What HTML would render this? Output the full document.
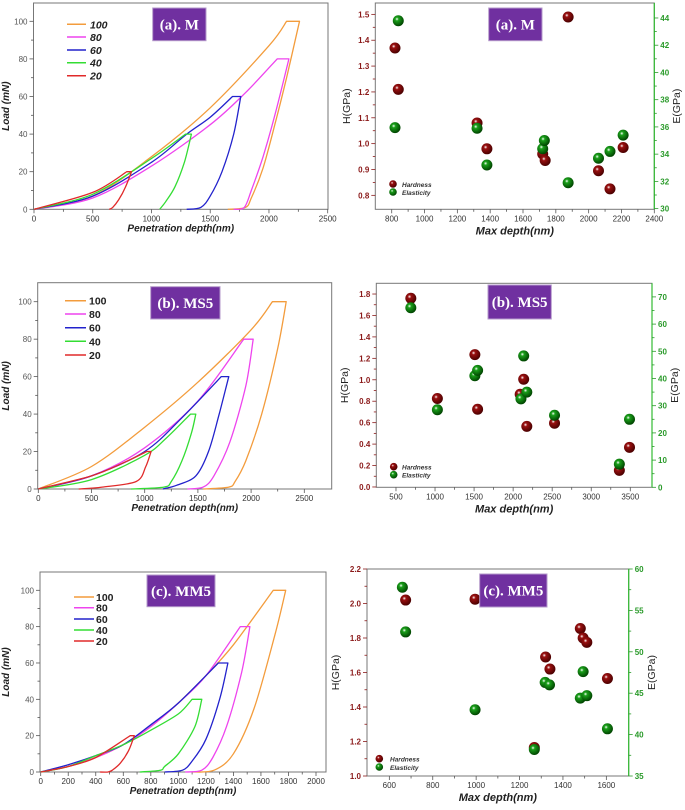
<!DOCTYPE html>
<html><head><meta charset="utf-8">
<style>
html,body{margin:0;padding:0;background:#fff;}
svg{display:block;font-family:"Liberation Sans",sans-serif;}
</style></head>
<body>
<svg id="fig" width="685" height="810" viewBox="0 0 685 810" xmlns="http://www.w3.org/2000/svg"></svg>
<script>
// ---------- data: load-depth curves (depth nm, load mN) ----------
const loadLevels = ["100","80","60","40","20"];
const curveColors = ["#f39c3c","#ee44ee","#2222cc","#33dd33","#e02a2a"];
const aDepth100=[0,500,1000,1500,2000,2150,2260,2150,2050,1950,1850,1800,1650];
const aLoad100 =[0,7,28,54,87,100,100,70,45,22,6,1,0];
const aDepth80=[0,500,1000,1500,1800,2070,2170,2050,1950,1850,1790,1700];
const aLoad80 =[0,6,23,45,62,80,80,50,28,10,1,0];
const aDepth60=[0,500,1000,1300,1500,1690,1760,1700,1600,1500,1420,1300];
const aLoad60 =[0,7,25,40,49,60,60,40,20,7,1,0];
const aDepth40=[0,500,1000,1290,1340,1280,1200,1120,1070];
const aLoad40 =[0,8,27,40,40,25,12,4,0];
const aDepth20=[0,500,790,830,780,720,670,640];
const aLoad20 =[0,9,20,20,12,5,1,0];

const bDepth100=[0,500,1000,1500,2000,2200,2330,2250,2100,1950,1850,1790,1550];
const bLoad100 =[0,12,33,57,85,100,100,75,40,15,4,1,0];
const bDepth80=[0,500,1000,1500,1930,2020,1950,1800,1650,1550,1400];
const bLoad80 =[0,7,22,47,80,80,55,25,7,1,0];
const bDepth60=[0,500,1000,1350,1720,1790,1700,1600,1480,1300,1170];
const bLoad60 =[0,7,20,38,60,60,40,20,7,2,0];
const bDepth40=[0,500,1000,1200,1430,1480,1440,1350,1250,1180,870];
const bLoad40 =[0,5,18,27,40,40,30,15,4,1,0];
const bDepth20=[0,500,800,1020,1060,1010,920,600,380];
const bLoad20 =[0,7,14,20,20,12,4,1,0];

const cDepth100=[0,200,400,600,800,1000,1200,1400,1690,1780,1700,1550,1400,1260,1100];
const cLoad100 =[0,3,8,15,25,38,53,70,100,100,75,35,10,1,0];
const cDepth80=[0,200,400,600,800,1000,1200,1450,1520,1460,1350,1250,1170,1050];
const cLoad80 =[0,3,8,15,25,38,53,80,80,55,25,8,1,0];
const cDepth60=[0,200,400,600,800,1000,1290,1360,1300,1200,1100,1030,900];
const cLoad60 =[0,4,9,15,26,38,60,60,40,18,6,1,0];
const cDepth40=[0,200,400,600,800,1000,1100,1170,1120,1000,900,870,720];
const cLoad40 =[0,3,9,15,23,32,40,40,25,10,3,1,0];
const cDepth20=[0,200,400,650,680,640,580,520,490,430];
const cLoad20 =[0,3,8,20,20,12,5,1,0,0];

// ---------- data: hardness / elasticity ----------
const aHDepth=[820,840,1320,1380,1720,1735,1875,2060,2130,2210];
const aH=[1.37,1.21,1.08,0.98,0.96,0.935,1.49,0.895,0.825,0.985];
const aEDepth=[840,820,1320,1380,1720,1730,1875,2060,2130,2210];
const aE=[43.8,35.95,35.9,33.2,34.4,35.0,31.9,33.7,34.2,35.4];

const bHDepth=[690,1030,1510,1545,2090,2135,2175,2530,3360,3490];
const bH=[1.76,0.825,1.235,0.725,0.865,1.005,0.565,0.595,0.155,0.37];
const bEDepth=[690,1030,1510,1545,2100,2135,2175,2530,3360,3490];
const bE=[66,28.5,41,43,32.5,48.3,35,26.5,8.5,25];

const cHDepth=[675,995,1268,1320,1340,1480,1493,1510,1605];
const cH=[2.02,2.025,1.165,1.69,1.62,1.855,1.8,1.775,1.565];
const cEDepth=[660,675,995,1268,1318,1338,1480,1493,1510,1605];
const cE=[57.8,52.4,43,38.2,46.3,46,44.4,47.6,44.7,40.7];

// ---------- ticks ----------
const aLxTicks=[0,500,1000,1500,2000,2500];
const bLxTicks=[0,500,1000,1500,2000,2500];
const cLxTicks=[0,200,400,600,800,1000,1200,1400,1600,1800,2000];
const loadTicks=[0,20,40,60,80,100];
const aRxTicks=[800,1000,1200,1400,1600,1800,2000,2200,2400];
const aHTicks=["0.8","0.9","1.0","1.1","1.2","1.3","1.4","1.5"];
const aETicks=[30,32,34,36,38,40,42,44];
const bRxTicks=[500,1000,1500,2000,2500,3000,3500];
const bHTicks=["0.0","0.2","0.4","0.6","0.8","1.0","1.2","1.4","1.6","1.8"];
const bETicks=[0,10,20,30,40,50,60,70];
const cRxTicks=[600,800,1000,1200,1400,1600];
const cHTicks=["1.0","1.2","1.4","1.6","1.8","2.0","2.2"];
const cETicks=[35,40,45,50,55,60];

// ---------- drawing ----------
const svg=document.getElementById('fig');
const NS="http://www.w3.org/2000/svg";
function mk(tag,attrs,parent){const e=document.createElementNS(NS,tag);for(const k in attrs)e.setAttribute(k,attrs[k]);(parent||svg).appendChild(e);return e;}
const defs=mk('defs',{});
function grad(id,c1,c2){const g=mk('radialGradient',{id:id,cx:'0.38',cy:'0.35',r:'0.65'},defs);mk('stop',{offset:'0','stop-color':'#fff'},g);mk('stop',{offset:'0.25','stop-color':c1},g);mk('stop',{offset:'1','stop-color':c2},g);}
grad('gH','#9a1010','#4a0000');grad('gE','#1aa01a','#004400');

function scale(d0,d1,p0,p1){return v=>p0+(v-d0)/(d1-d0)*(p1-p0);}
function smoothSeg(pts){
  let d="";
  for(let i=0;i<pts.length-1;i++){
    const p0=pts[i-1]||pts[i],p1=pts[i],p2=pts[i+1],p3=pts[i+2]||p2;
    const t=0.16;
    const c1=[p1[0]+(p2[0]-p0[0])*t,p1[1]+(p2[1]-p0[1])*t];
    const c2=[p2[0]-(p3[0]-p1[0])*t,p2[1]-(p3[1]-p1[1])*t];
    d+=" C"+c1.map(v=>v.toFixed(1))+" "+c2.map(v=>v.toFixed(1))+" "+p2[0].toFixed(1)+","+p2[1].toFixed(1);
  }
  return d;
}
function curvePath(pts,loads){
  const mx=Math.max(...loads); const iMax=loads.indexOf(mx); const iHold=iMax+1;
  let d="M"+pts[0][0].toFixed(1)+","+pts[0][1].toFixed(1);
  d+=smoothSeg(pts.slice(0,iMax+1));
  d+=" L"+pts[iHold][0].toFixed(1)+","+pts[iHold][1].toFixed(1);
  d+=smoothSeg(pts.slice(iHold));
  return d;
}
function frame(g,L,T,R,B){
  const f=mk('rect',{x:L,y:T,width:R-L,height:B-T,fill:'none',stroke:'#777','stroke-width':1},g);
  
  
}
function xAxis(g,ticks,sx,B,color,fs){
  ticks.forEach((t,i)=>{
    const x=sx(t);
    mk('line',{x1:x,x2:x,y1:B,y2:B+4,stroke:'#555','stroke-width':0.8},g);
    if(i<ticks.length-1){const xm=(x+sx(ticks[i+1]))/2;mk('line',{x1:xm,x2:xm,y1:B,y2:B+2.5,stroke:'#555','stroke-width':0.8},g);}
    const tx=mk('text',{x:x,y:B+12,'font-size':fs,'text-anchor':'middle',fill:color},g);
    tx.textContent=t;
    
    
  });
}
function yAxis(g,ticks,sy,L,color,fs,side){
  ticks.forEach((t,i)=>{
    const y=sy(parseFloat(t)); const dir=side==='r'?1:-1;
    mk('line',{x1:L,x2:L+dir*4,y1:y,y2:y,stroke:color,'stroke-width':0.8},g);
    if(i<ticks.length-1){const ym=(y+sy(parseFloat(ticks[i+1])))/2;mk('line',{x1:L,x2:L+dir*2.5,y1:ym,y2:ym,stroke:color,'stroke-width':0.8},g);}
    const tx=mk('text',{x:L+dir*6,y:y+3,'font-size':fs,'text-anchor':side==='r'?'start':'end',fill:color,'font-weight':side?'bold':'normal'},g);
    tx.textContent=t;
    
    
  });
}
function label(g,txt,x,y,rot,opts,name){
  const t=mk('text',Object.assign({x:x,y:y,'text-anchor':'middle','font-size':10,'font-weight':'bold',fill:'#222'},opts||{}),g);
  if(rot)t.setAttribute('transform','rotate(-90 '+x+' '+y+')');
  t.textContent=txt;
  
  
}
function titleBox(g,x,y,w,h,txt){
  const r=mk('rect',{x:x,y:y,width:w,height:h,fill:'#7030a0',stroke:'#b59acb','stroke-width':1},g);
  
  
  const t=mk('text',{x:x+w/2,y:y+h/2+5,'text-anchor':'middle','font-family':'Liberation Serif, serif','font-weight':'bold','font-size':15,fill:'#fff'},g);
  t.textContent=txt;
  
  
}

function loadPanel(name,box,xd,yd,xticks,depths,loads,legend,titleB,titleTxt,italicLegend){
  const g=mk('g',{});
  
  
  const [L,T,R,B]=box;
  const sx=scale(xd[0],xd[1],xd[2],xd[3]), sy=scale(0,100,yd[0],yd[1]);
  frame(g,L,T,R,B);
  xAxis(g,xticks,sx,B,'#333',8);
  yAxis(g,loadTicks,sy,L,'#555',8,null);
  depths.forEach((dArr,i)=>{
    const pts=dArr.map((d,j)=>[sx(d),sy(loads[i][j])]);
    const p=mk('path',{d:curvePath(pts,loads[i]),fill:'none',stroke:curveColors[i],'stroke-width':1.3,'stroke-linejoin':'round'},g);
    
    
  });
  const [lx1,lx2,tx,rows]=legend;
  loadLevels.forEach((lv,i)=>{
    const ln=mk('line',{x1:lx1,x2:lx2,y1:rows[i],y2:rows[i],stroke:curveColors[i],'stroke-width':1.5},g);
    
    
    const t=mk('text',{x:tx,y:rows[i]+4,'font-size':10.5,'font-weight':'bold','font-style':italicLegend?'italic':'normal',fill:'#222'},g);
    t.textContent=lv;
    
    
  });
  titleBox(g,...titleB,titleTxt);
  label(g,'Penetration depth(nm)',(L+R)/2,B+22,false,{'font-style':'italic'},'x-axis-title');
  label(g,'Load (mN)',9,(T+B)/2,true,{'font-style':'italic'},'y-axis-title');
}

function hePanel(name,box,xd,hd,ed,xticks,hticks,eticks,hx,hy,ex,ey,legend,titleB,titleTxt,hLabelX,eLabelX){
  const g=mk('g',{});
  
  
  const [L,T,R,B]=box;
  const sx=scale(xd[0],xd[1],L,R), sh=scale(hd[0],hd[1],B,T), se=scale(ed[0],ed[1],B,T);
  frame(g,L,T,R,B);
  mk('line',{x1:R,x2:R,y1:T,y2:B,stroke:'#33bb33','stroke-width':1.2},g);
  xAxis(g,xticks,sx,B,'#333',8);
  yAxis(g,hticks,sh,L,'#8b1a1a',8,'l');
  yAxis(g,eticks.map(String),se,R,'#2a9a2a',8,'r');
  hx.forEach((x,i)=>{
    const c=mk('circle',{cx:sx(x),cy:sh(hy[i]),r:5.5,fill:'url(#gH)'},g);
    
    
  });
  ex.forEach((x,i)=>{
    const c=mk('circle',{cx:sx(x),cy:se(ey[i]),r:5.5,fill:'url(#gE)'},g);
    
    
  });
  const [mx,tx,y1,y2]=legend;
  const c1=mk('circle',{cx:mx,cy:y1,r:3.8,fill:'url(#gH)'},g);
  
  
  const c2=mk('circle',{cx:mx,cy:y2,r:3.8,fill:'url(#gE)'},g);
  
  
  const t1=mk('text',{x:tx,y:y1+3,'font-size':6.5,'font-style':'italic','font-weight':'bold',fill:'#333'},g);t1.textContent='Hardness';
  
  
  const t2=mk('text',{x:tx,y:y2+3,'font-size':6.5,'font-style':'italic','font-weight':'bold',fill:'#333'},g);t2.textContent='Elasticity';
  
  
  titleBox(g,...titleB,titleTxt);
  label(g,'Max depth(nm)',(L+R)/2,B+25,false,{'font-style':'italic','font-size':11},'x-axis-title');
  label(g,'H(GPa)',hLabelX,(T+B)/2,true,{'font-weight':'normal','font-size':10.5},'h-axis-title');
  label(g,'E(GPa)',eLabelX,(T+B)/2,true,{'font-weight':'normal','font-size':10.5},'e-axis-title');
}

// Panel (a)
loadPanel('panel-a-load-depth',[33.5,3,328,209.3],[0,2500,34,327.7],[209.3,21.3],aLxTicks,
  [aDepth100,aDepth80,aDepth60,aDepth40,aDepth20],[aLoad100,aLoad80,aLoad60,aLoad40,aLoad20],
  [67,86,90,[24.3,37,50,62.7,75.7]],[152.7,8,53.3,32.7],'(a). M',true);
hePanel('panel-a-hardness',[375.3,3,654.3,209.3],[700,2400],[0.746,1.544],[29.95,45.1],aRxTicks,aHTicks,aETicks,
  aHDepth,aH,aEDepth,aE,[393,402,184,192],[488.7,8,53.3,32.7],'(a). M',350,680);
// Panel (b)
loadPanel('panel-b-load-depth',[37.7,282.7,331.7,489],[0,2500,38.3,304.3],[489,301.7],bLxTicks,
  [bDepth100,bDepth80,bDepth60,bDepth40,bDepth20],[bLoad100,bLoad80,bLoad60,bLoad40,bLoad20],
  [65,86,89,[300.7,314,327.7,341.3,355]],[150.7,286.7,69.3,32.3],'(b). MS5',false);
hePanel('panel-b-hardness',[376.3,283.3,652,487.3],[248,3778],[-0.003,1.90],[0,75],bRxTicks,bHTicks,bETicks,
  bHDepth,bH,bEDepth,bE,[393.7,402,466.7,474.7],[488,285,63.3,34],'(b). MS5',348,678);
// Panel (c)
loadPanel('panel-c-load-depth',[40,572,326,772],[0,2000,40.7,316],[772,590.3],cLxTicks,
  [cDepth100,cDepth80,cDepth60,cDepth40,cDepth20],[cLoad100,cLoad80,cLoad60,cLoad40,cLoad20],
  [74,94,96,[597,607.7,619,630,641]],[147,575,68,31.7],'(c). MM5',false);
hePanel('panel-c-hardness',[367,569,628.7,776],[497,1703],[1.0,2.2],[35,60],cRxTicks,cHTicks,cETicks,
  cHDepth,cH,cEDepth,cE,[379.3,390,758.7,767],[479.7,574,67.3,33],'(c). MM5',339,655);
</script>
</body></html>
